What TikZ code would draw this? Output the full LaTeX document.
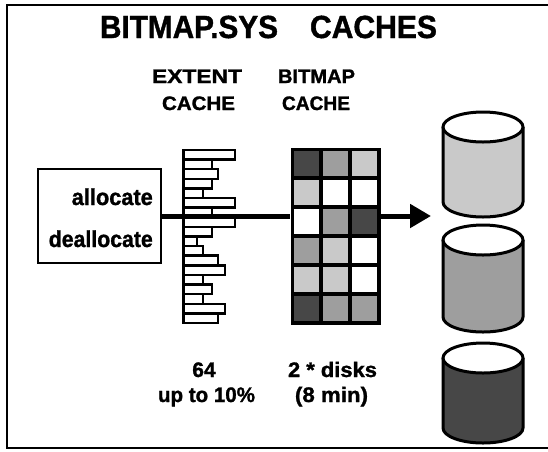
\documentclass[tikz,border=0pt]{standalone}
\usepackage{fontspec}
\setmainfont{Liberation Sans}[BoldFeatures={FakeBold=1.3}]
\usepackage{graphicx}
\usetikzlibrary{arrows.meta}
% squeeze or widen a text to a given width, keeping its height
\newcommand\fitw[2]{\resizebox{#1pt}{\height}{#2}}
\begin{document}
\begin{tikzpicture}[x=1pt,y=-1pt,
  lbl/.style={inner sep=0pt, anchor=base, font=\bfseries},
  frame/.style={line width=2pt},
  bar/.style={line width=2.5pt, fill=white},
  flow/.style={line width=5pt},
  disk/.style={line width=3pt},
  light/.style={fill=black!21},
  medium/.style={fill=black!38},
  dark/.style={fill=black!72},
  blank/.style={fill=white}]
\useasboundingbox (0,0) rectangle (548,451);
\fill[white] (0,0) rectangle (548,451);

% outer frame
\draw[frame] (548,5) -- (7,5) -- (7,448) -- (548,448);

% title
\node[lbl] (title1) at (189,38) {\fontsize{32}{36}\selectfont\fitw{178}{BITMAP.SYS}};
\node[lbl] (title2) at (373.5,38) {\fontsize{32}{36}\selectfont\fitw{127}{CACHES}};

% column headings
\node[lbl] (ext1) at (197,83) {\fontsize{19.5}{22}\selectfont\fitw{90}{EXTENT}};
\node[lbl] (ext2) at (198.5,110) {\fontsize{19.5}{22}\selectfont\fitw{73}{CACHE}};
\node[lbl] (bmp1) at (316.5,83) {\fontsize{19.5}{22}\selectfont\fitw{77}{BITMAP}};
\node[lbl] (bmp2) at (316,110) {\fontsize{19.5}{22}\selectfont\fitw{68}{CACHE}};

% request box
\node[draw, frame, minimum width=123pt, minimum height=94pt, inner sep=0pt] (box) at (99.5,216) {};
\node[lbl, anchor=base east] (alloc) at (153,205) {\fontsize{23}{26}\selectfont\fitw{81}{allocate}};
\node[lbl, anchor=base east] (dealloc) at (153,247) {\fontsize{23}{26}\selectfont\fitw{104}{deallocate}};

% extent cache: stacked extent bars of varying length
\foreach \r [count=\i from 0] in {235,212,218,212,203,235,212,235,212,197,203,218,225,203,212,203,225,218}
  \draw[bar] (183,150+\i*9.61) rectangle (\r,150+\i*9.61+9.61);
\draw[line width=3pt] (183,149) -- (183,324);

% bitmap cache: 3 x 6 grid of cells
\node[fill=black, minimum width=90pt, minimum height=177pt, inner sep=0pt] (bmp) at (335.5,236) {};

% data path through the caches to the disks
\coordinate (tip) at (431,216);
\draw[flow] (box.east) -- (box.east -| bmp.west);
\draw[flow, -{Triangle[length=21pt,width=23pt]}] (box.east -| bmp.east) -- (tip);

\foreach \row [count=\j from 0] in {{dark,medium,light},{light,blank,blank},{blank,medium,dark},{medium,light,blank},{light,light,blank},{dark,medium,medium}}
  \foreach \s [count=\i from 0] in \row
    \path[\s] (292+\i*29+1.8,149+\j*29+1.8) rectangle (292+\i*29+29-1.8,149+\j*29+29-1.8);

% disks
\foreach \t/\b/\s [count=\k] in {127/202/light, 240/317/medium, 358/428/dark} {
  \path[\s] (443,\t) -- (443,\b) arc[start angle=180, end angle=0, x radius=40, y radius=15] -- (523,\t) -- cycle;
  \draw[disk] (443,\t) -- (443,\b) arc[start angle=180, end angle=0, x radius=40, y radius=15] -- (523,\t);
  \draw[disk, fill=white] (483,\t) ellipse[x radius=40, y radius=15];
  \coordinate (disk\k) at (483,\t);
}

% figures under the caches
\node[lbl] (n64) at (204,377) {\fontsize{21}{24}\selectfont 64};
\node[lbl] (pct) at (206.5,402) {\fontsize{21}{24}\selectfont\fitw{97}{up to 10\%}};
\node[lbl] (dsk) at (332.5,377) {\fontsize{21}{24}\selectfont\fitw{89}{2 * disks}};
\node[lbl] (min) at (331.5,402) {\fontsize{21}{24}\selectfont\fitw{73}{(8 min)}};
\end{tikzpicture}
\end{document}
